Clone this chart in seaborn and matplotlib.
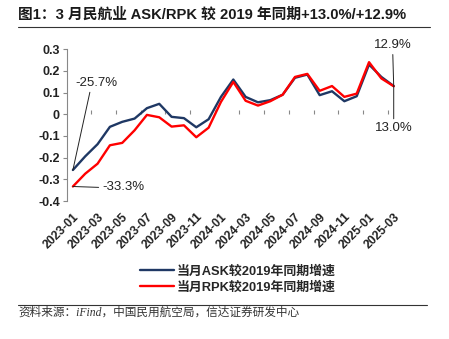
import numpy as np
import pandas as pd
import matplotlib
matplotlib.use("Agg")
import matplotlib.pyplot as plt
import seaborn as sns

months = ["2023-01", "2023-02", "2023-03", "2023-04", "2023-05", "2023-06", "2023-07",
          "2023-08", "2023-09", "2023-10", "2023-11", "2023-12", "2024-01", "2024-02",
          "2024-03", "2024-04", "2024-05", "2024-06", "2024-07", "2024-08", "2024-09",
          "2024-10", "2024-11", "2024-12", "2025-01", "2025-02", "2025-03"]
ask = [-0.257, -0.194, -0.138, -0.058, -0.035, -0.020, 0.028, 0.048, -0.012, -0.018,
       -0.060, -0.023, 0.080, 0.160, 0.080, 0.055, 0.065, 0.090, 0.168, 0.183, 0.088,
       0.106, 0.060, 0.083, 0.229, 0.172, 0.130]
rpk = [-0.333, -0.274, -0.228, -0.143, -0.132, -0.074, -0.003, -0.014, -0.057, -0.051,
       -0.106, -0.062, 0.057, 0.149, 0.062, 0.040, 0.060, 0.090, 0.172, 0.186, 0.108,
       0.130, 0.080, 0.095, 0.240, 0.165, 0.129]
series_names = ["当月ASK较2019年同期增速", "当月RPK较2019年同期增速"]
colors = ["#1F3864", "#FF0000"]
yticks = [-0.4, -0.3, -0.2, -0.1, 0, 0.1, 0.2, 0.3]
ytick_labels = ["-0.4", "-0.3", "-0.2", "-0.1", "0", "0.1", "0.2", "0.3"]
title = "图1：3 月民航业 ASK/RPK 较 2019 年同期+13.0%/+12.9%"
source = "资料来源：iFind，中国民用航空局，信达证券研发中心"

sns.set_theme(style="white")
plt.rcParams["font.family"] = ["Liberation Sans", "Noto Sans CJK SC", "DejaVu Sans"]

idx = np.arange(len(months))
df = pd.concat([
    pd.DataFrame({"idx": idx, "value": ask, "series": series_names[0]}),
    pd.DataFrame({"idx": idx, "value": rpk, "series": series_names[1]}),
])

fig = plt.figure(figsize=(4.49, 3.39), dpi=100)
ax = fig.add_axes([0.1486, 0.407, 0.742, 0.448])
sns.lineplot(data=df, x="idx", y="value", hue="series", palette=colors,
             linewidth=1.7, ax=ax, legend=False)

ax.set_xlim(-0.5, len(months) - 0.5)
ax.set_ylim(-0.4, 0.3)
ax.set_xlabel("")
ax.set_ylabel("")
ax.set_yticks(yticks)
ax.set_yticklabels(ytick_labels, fontsize=9, fontweight="bold", color="#222222")
ax.tick_params(axis="y", direction="out", length=3, width=0.8, color="#888888", pad=2, left=True)
ax.set_xticks(idx[::2])
ax.set_xticklabels(months[::2], rotation=45, ha="right", rotation_mode="anchor",
                   fontsize=8.7, fontweight="bold", color="#222222")
ax.tick_params(axis="x", length=0, pad=7)
for s in ["top", "right", "bottom"]:
    ax.spines[s].set_visible(False)
ax.spines["left"].set_color("#888888")
ax.spines["left"].set_linewidth(0.8)
ax.grid(False)

# zero axis line with ticks
zero_frac = (0 - (-0.4)) / 0.7
sec = ax.secondary_xaxis(zero_frac)
sec.set_xticks(idx[1::2] + 0.5)
sec.set_xticklabels([])
sec.tick_params(axis="x", direction="out", length=3, width=0.8, color="#888888")
sec.spines["bottom"].set_color("#888888")
sec.spines["bottom"].set_linewidth(0.8)
for s in ["top", "left", "right"]:
    if s in sec.spines:
        sec.spines[s].set_visible(False)

afont = dict(fontsize=9.5, color="#222222", family=["Liberation Sans", "DejaVu Sans"])
arrow = dict(arrowstyle="-", color="#222222", lw=0.7, shrinkA=0, shrinkB=0)
ax.annotate(f"{ask[0]*100:.1f}%", xy=(0, ask[0]), xytext=(24, 87), textcoords="offset pixels",
            ha="center", va="center", arrowprops=dict(arrow, relpos=(0.35, 0)), **afont)
ax.annotate(f"{rpk[0]*100:.1f}%", xy=(0, rpk[0]), xytext=(29, -1), textcoords="offset pixels",
            ha="left", va="center", arrowprops=dict(arrow, relpos=(0, 0.5)), **afont)
ax.annotate(f"{rpk[-1]*100:.1f}%", xy=(len(months) - 1, rpk[-1]), xytext=(-1, 41),
            textcoords="offset pixels", ha="center", va="center",
            arrowprops=dict(arrow, relpos=(0.5, 0)), **afont)
ax.annotate(f"{ask[-1]*100:.1f}%", xy=(len(months) - 1, ask[-1]), xytext=(0, -42),
            textcoords="offset pixels", ha="center", va="center",
            arrowprops=dict(arrow, relpos=(0.5, 1)), **afont)

# legend
from matplotlib.lines import Line2D
handles = [Line2D([], [], color=c, lw=1.7) for c in colors]
fig.legend(handles, series_names, loc="center", bbox_to_anchor=(0.53, 0.176),
           frameon=False, ncol=1, handlelength=2.6, handletextpad=0.25, labelspacing=0.3,
           prop=dict(family=["Liberation Sans", "Noto Sans CJK SC"], weight="bold", size=9.3))

# title and source
fig.text(0.04, 0.958, title, fontsize=10.6, fontweight="bold", color="#1a1a1a",
         ha="left", va="center")
fig.add_artist(Line2D([0.04, 0.958], [0.921, 0.921], color="#333333", lw=0.8))
fig.add_artist(Line2D([0.04, 0.952], [0.100, 0.100], color="#333333", lw=0.8))
fig.text(0.04, 0.078, source, fontsize=8.4, color="#333333", ha="left", va="center",
         style="italic", family=["Liberation Serif", "Noto Sans CJK SC"])

fig.savefig("out.png", dpi=100)
